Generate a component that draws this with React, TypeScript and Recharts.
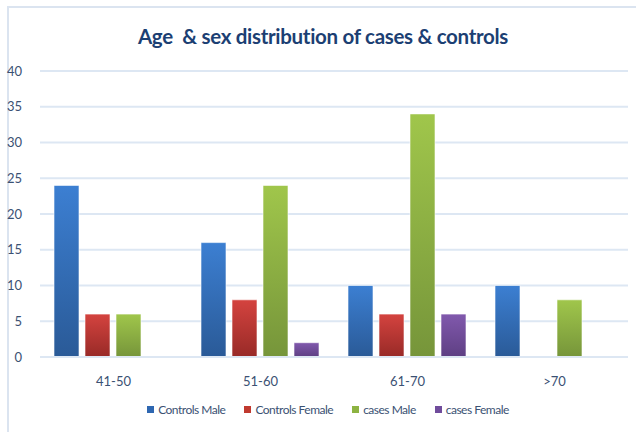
import React from 'react'
import { BarChart, Bar, XAxis, YAxis, CartesianGrid } from 'recharts'

const ageGroups = ['41-50', '51-60', '61-70', '>70']
const controlsMale = [24, 16, 10, 10]
const controlsFemale = [6, 8, 6, 0]
const casesMale = [6, 24, 34, 8]
const casesFemale = [0, 2, 6, 0]
const yTicks = [0, 5, 10, 15, 20, 25, 30, 35, 40]

const chartData = ageGroups.map((group, i) => ({
  group,
  controlsMale: controlsMale[i],
  controlsFemale: controlsFemale[i],
  casesMale: casesMale[i],
  casesFemale: casesFemale[i],
}))

const series = [
  { key: 'controlsMale', name: 'Controls Male', top: '#3c7fd2', bottom: '#2a5a97', legend: '#2e67b1' },
  { key: 'controlsFemale', name: 'Controls Female', top: '#d4433f', bottom: '#982a27', legend: '#c0392f' },
  { key: 'casesMale', name: 'cases Male', top: '#a0c64b', bottom: '#76953a', legend: '#8db342' },
  { key: 'casesFemale', name: 'cases Female', top: '#8159ad', bottom: '#5e3f83', legend: '#704c9c' },
]

const textColor = '#3b5173'
const font = 'Lato, "Open Sans", sans-serif'

export default function App() {
  return (
    <div style={{ position: 'absolute', left: 0, top: 0, width: 636, height: 432, background: '#fff', fontFamily: font, overflow: 'hidden' }}>
      <div
        style={{
          position: 'absolute',
          left: 7,
          top: 6,
          width: 640,
          height: 440,
          borderTop: '2px solid #dbe4f0',
          borderLeft: '2px solid #dbe4f0',
        }}
      />
      <div
        style={{
          position: 'absolute',
          left: 0,
          top: 24,
          width: 646,
          textAlign: 'center',
          fontSize: 20.5,
          fontWeight: 'bold',
          color: '#1c3f73',
          letterSpacing: -0.3,
        }}
      >
        Age&nbsp; &amp; sex distribution of cases &amp; controls
      </div>
      <BarChart
        width={636}
        height={432}
        data={chartData}
        margin={{ top: 71, right: 8, left: 0, bottom: 45 }}
        barCategoryGap={14}
        barGap={6}
        style={{ position: 'absolute', left: 0, top: 0 }}
      >
        <defs>
          {series.map((s) => (
            <linearGradient key={s.key} id={`grad-${s.key}`} x1="0" y1="0" x2="0" y2="1">
              <stop offset="0%" stopColor={s.top} />
              <stop offset="100%" stopColor={s.bottom} />
            </linearGradient>
          ))}
        </defs>
        <CartesianGrid vertical={false} stroke="#dde7f3" strokeWidth={2} />
        <XAxis
          dataKey="group"
          height={30}
          axisLine={{ stroke: '#dde7f3', strokeWidth: 2 }}
          tickLine={false}
          tick={{ fill: textColor, fontSize: 13, fontFamily: font }}
          tickMargin={14}
        />
        <YAxis
          width={40}
          domain={[0, 40]}
          ticks={yTicks}
          axisLine={false}
          tickLine={false}
          tickMargin={12}
          tick={{ fill: textColor, fontSize: 13, fontFamily: font }}
        />
        {series.map((s) => (
          <Bar
            key={s.key}
            dataKey={s.key}
            name={s.name}
            fill={`url(#grad-${s.key})`}
            stroke="#ffffff"
            strokeOpacity={0.6}
            isAnimationActive={false}
          />
        ))}
      </BarChart>
      <div
        style={{
          position: 'absolute',
          left: 0,
          top: 402,
          width: 656,
          display: 'flex',
          justifyContent: 'center',
          gap: 19,
          fontSize: 12,
          letterSpacing: -0.5,
          color: textColor,
        }}
      >
        {series.map((s) => (
          <div key={s.key} style={{ display: 'flex', alignItems: 'center', gap: 4 }}>
            <span style={{ display: 'inline-block', width: 7, height: 7, background: s.legend }} />
            <span>{s.name}</span>
          </div>
        ))}
      </div>
    </div>
  )
}
